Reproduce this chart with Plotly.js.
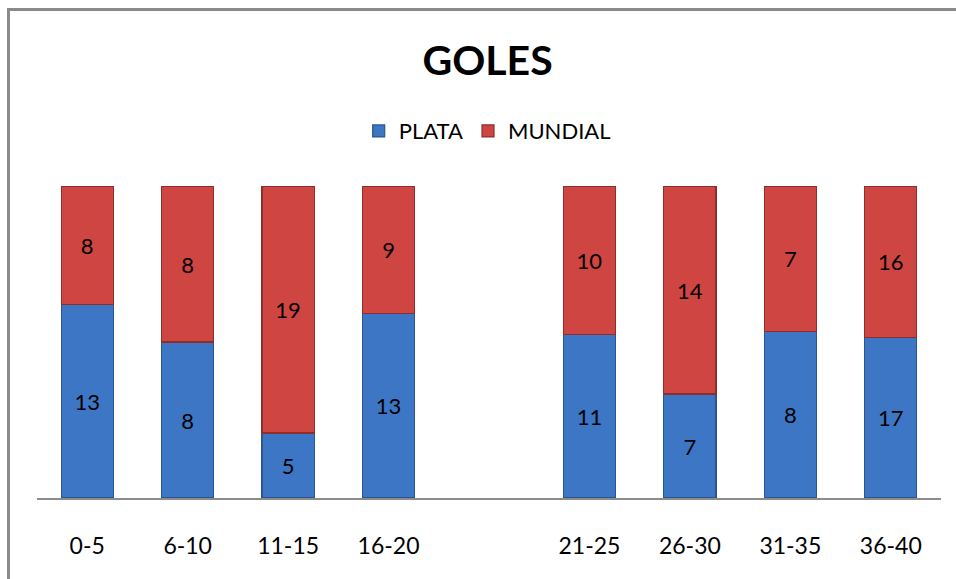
<!DOCTYPE html>
<html>
<head>
<meta charset="utf-8">
<script src="https://cdn.plot.ly/plotly-3.0.1.min.js"></script>
<style>
html,body{margin:0;padding:0;background:#fff;}
#frame{position:absolute;left:7px;top:8px;width:960px;height:590px;border-left:3px solid #8a8a8a;border-top:3px solid #8a8a8a;}
#chart{position:absolute;left:0;top:0;width:956px;height:579px;}
</style>
</head>
<body>
<div id="frame"></div>
<div id="chart"></div>
<script>
const categories = ["0-5", "6-10", "11-15", "16-20", " ", "21-25", "26-30", "31-35", "36-40"];
const plata   = [13, 8, 5, 13, null, 11, 7, 8, 17];
const mundial = [8, 8, 19, 9, null, 10, 14, 7, 16];

const font = "Lato, 'Open Sans', sans-serif";

const traces = [
  {
    type: "bar", name: "PLATA", x: categories, y: plata,
    text: plata.map(v => v == null ? "" : String(v)),
    textposition: "inside", insidetextanchor: "middle", textangle: 0,
    textfont: {family: font, size: 22, color: "#000"},
    marker: {color: "#3c76c4", line: {color: "#2a558f", width: 1.2}},
    hoverinfo: "skip"
  },
  {
    type: "bar", name: "MUNDIAL", x: categories, y: mundial,
    text: mundial.map(v => v == null ? "" : String(v)),
    textposition: "inside", insidetextanchor: "middle", textangle: 0,
    textfont: {family: font, size: 22, color: "#000"},
    marker: {color: "#cf4542", line: {color: "#8f2d2b", width: 1.2}},
    hoverinfo: "skip"
  }
];

const layout = {
  width: 956, height: 579,
  paper_bgcolor: "rgba(0,0,0,0)", plot_bgcolor: "rgba(0,0,0,0)",
  margin: {l: 37, r: 15, t: 186, b: 81},
  barmode: "stack", barnorm: "percent", bargap: 0.48,
  font: {family: font, color: "#000"},
  title: {text: "<b>GOLES</b>", x: 0.51, xanchor: "center", y: 0.896, yanchor: "middle",
          font: {family: font, size: 41, color: "#000"}},
  showlegend: true,
  legend: {orientation: "h", x: 0.498, xanchor: "center", y: 1.176, yanchor: "middle",
           font: {family: font, size: 22, color: "#000"}, traceorder: "normal",
           itemwidth: 30},
  xaxis: {type: "category", showline: true, linecolor: "#8c8c8c", linewidth: 1.5,
          showgrid: false, ticks: "", ticklabelstandoff: 27,
          tickfont: {family: font, size: 23, color: "#000"}},
  yaxis: {range: [0, 100], visible: false, showgrid: false, zeroline: false}
};

Plotly.newPlot("chart", traces, layout, {staticPlot: true, displayModeBar: false});
</script>
</body>
</html>
